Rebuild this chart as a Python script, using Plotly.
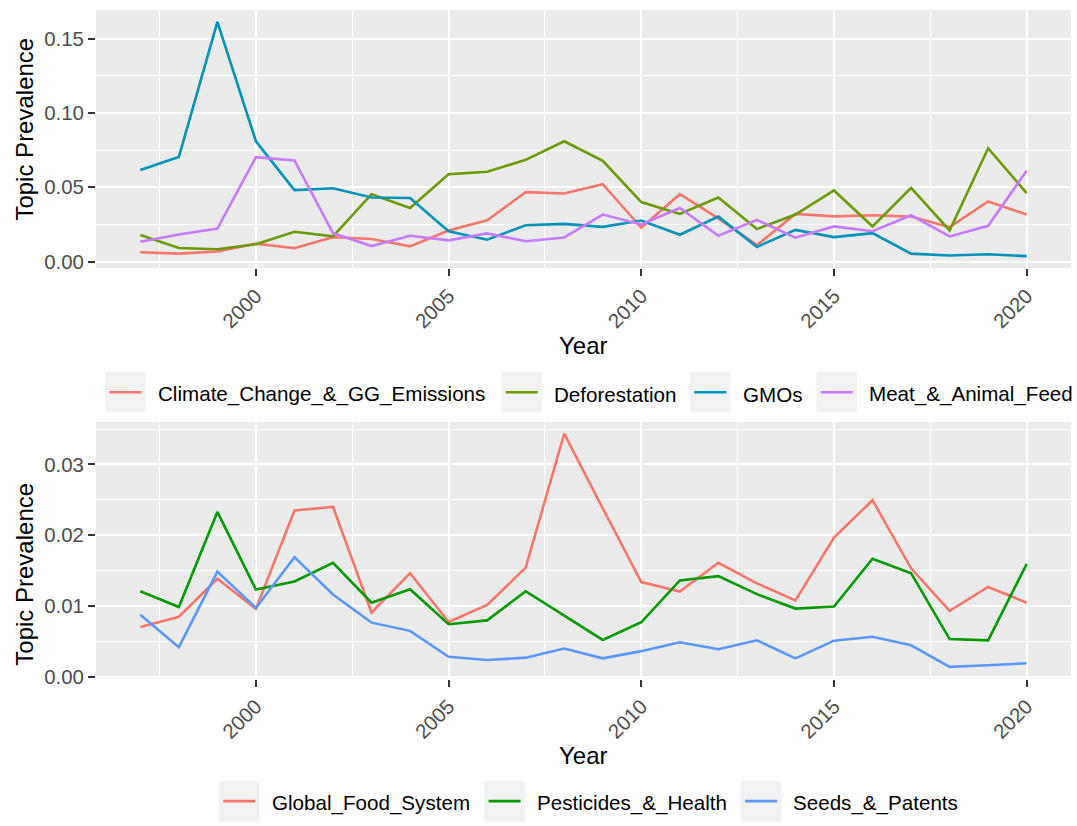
import plotly.graph_objects as go

years = list(range(1997, 2021))

# Top panel series
climate = [0.0062, 0.0053, 0.0067, 0.0120, 0.0089, 0.0164, 0.0151, 0.0102, 0.0209, 0.0278,
           0.0467, 0.0458, 0.0520, 0.0227, 0.0453, 0.0290, 0.0110, 0.0320, 0.0304, 0.0311,
           0.0302, 0.0231, 0.0404, 0.0316]
deforestation = [0.0178, 0.0091, 0.0082, 0.0116, 0.0200, 0.0169, 0.0453, 0.0360, 0.0587, 0.0604,
                 0.0684, 0.0809, 0.0678, 0.0400, 0.0320, 0.0431, 0.0218, 0.0316, 0.0478, 0.0236,
                 0.0496, 0.0209, 0.0762, 0.0460]
gmos = [0.0616, 0.0704, 0.1613, 0.0809, 0.0480, 0.0493, 0.0431, 0.0427, 0.0204, 0.0147,
        0.0244, 0.0253, 0.0233, 0.0276, 0.0180, 0.0302, 0.0098, 0.0213, 0.0164, 0.0191,
        0.0053, 0.0040, 0.0049, 0.0036]
meat = [0.0133, 0.0182, 0.0222, 0.0702, 0.0680, 0.0191, 0.0104, 0.0173, 0.0142, 0.0189,
        0.0136, 0.0162, 0.0316, 0.0249, 0.0360, 0.0173, 0.0280, 0.0160, 0.0236, 0.0204,
        0.0311, 0.0169, 0.0240, 0.0611]

# Bottom panel series
food_system = [0.00704, 0.00847, 0.01384, 0.00958, 0.02350, 0.02400, 0.00907, 0.01463, 0.00773, 0.01014,
               0.01542, 0.03435, 0.02380, 0.01338, 0.01204, 0.01611, 0.01320, 0.01079, 0.01968, 0.02495,
               0.01532, 0.00930, 0.01269, 0.01046]
pesticides = [0.01208, 0.00986, 0.02329, 0.01231, 0.01347, 0.01611, 0.01046, 0.01236, 0.00741, 0.00796,
              0.01208, 0.00870, 0.00520, 0.00769, 0.01361, 0.01421, 0.01167, 0.00963, 0.00991, 0.01667,
              0.01463, 0.00532, 0.00514, 0.01593]
seeds = [0.00875, 0.00417, 0.01486, 0.00972, 0.01690, 0.01162, 0.00764, 0.00648, 0.00282, 0.00236,
         0.00269, 0.00398, 0.00259, 0.00361, 0.00486, 0.00389, 0.00514, 0.00259, 0.00509, 0.00565,
         0.00444, 0.00139, 0.00162, 0.00190]

top_names = ["Climate_Change_&_GG_Emissions", "Deforestation", "GMOs", "Meat_&_Animal_Feed"]
top_values = [climate, deforestation, gmos, meat]
top_colors = ["#F8766D", "#6B9A00", "#0093B9", "#C77CFF"]

bot_names = ["Global_Food_System", "Pesticides_&_Health", "Seeds_&_Patents"]
bot_values = [food_system, pesticides, seeds]
bot_colors = ["#F8766D", "#009A00", "#5C97FF"]

FONT = "Liberation Sans, Arial, sans-serif"
W, H = 1077, 826
LEG_FONT = 20.6
TICK_FONT = 20.4
TITLE_FONT = 24
LW = 2.6

# legend layout (px): key-box left edges and vertical centres
top_key_left = [105, 501.5, 690, 816.5]
bot_key_left = [219, 484.3, 740.8]
top_leg_y, bot_leg_y = 396.5, 810
KEY_W, KEY_H = 40.5, 41
LINE_IN0, LINE_IN1 = 4.3, 36.3
TEXT_OFF = 50.6
TEXT_DY = 2

fig = go.Figure()
shapes = []
annotations = []

def px_x(v):
    return v / W

def px_y(v):
    return 1 - v / H

def add_series(names, values, colors, xa, ya, lefts, ycen):
    for n, v, c, left in zip(names, values, colors, lefts):
        fig.add_trace(go.Scatter(x=years, y=v, mode="lines", name=n,
                                 line=dict(color=c, width=LW),
                                 xaxis=xa, yaxis=ya, showlegend=False))
        # legend key box
        shapes.append(dict(type="rect", xref="paper", yref="paper", layer="below",
                           x0=px_x(left), x1=px_x(left + KEY_W),
                           y0=px_y(ycen + KEY_H / 2), y1=px_y(ycen - KEY_H / 2),
                           fillcolor="#F2F2F2", line=dict(width=0)))
        # legend key line
        shapes.append(dict(type="line", xref="paper", yref="paper", layer="above",
                           x0=px_x(left + LINE_IN0), x1=px_x(left + LINE_IN1),
                           y0=px_y(ycen), y1=px_y(ycen),
                           line=dict(color=c, width=LW)))
        # legend label
        annotations.append(dict(text=n, x=px_x(left + TEXT_OFF), y=px_y(ycen + TEXT_DY),
                                xref="paper", yref="paper", showarrow=False,
                                xanchor="left", yanchor="middle",
                                font=dict(family=FONT, size=LEG_FONT, color="black")))

add_series(top_names, top_values, top_colors, "x", "y", top_key_left, top_leg_y)
add_series(bot_names, bot_values, bot_colors, "x2", "y2", bot_key_left, bot_leg_y)

def xax(anchor):
    return dict(
        domain=[96 / W, 1071 / W], anchor=anchor, range=[1995.85, 2021.15],
        tick0=2000, dtick=5, tickangle=-45, showgrid=True, gridcolor="white", gridwidth=2,
        minor=dict(tick0=2000, dtick=2.5, showgrid=True, gridcolor="white", gridwidth=1),
        ticks="outside", ticklen=7, tickwidth=2, tickcolor="#333333",
        tickfont=dict(family=FONT, size=TICK_FONT, color="#4D4D4D"),
        zeroline=False, showline=False,
    )

def yax(domain, rng, dtick, anchor):
    return dict(
        domain=domain, anchor=anchor, range=rng, tick0=0, dtick=dtick, tickformat=".2f",
        showgrid=True, gridcolor="white", gridwidth=2,
        minor=dict(tick0=0, dtick=dtick / 2, showgrid=True, gridcolor="white", gridwidth=1),
        ticks="outside", ticklen=7, tickwidth=2, tickcolor="#333333",
        tickfont=dict(family=FONT, size=TICK_FONT, color="#4D4D4D"),
        zeroline=False, showline=False,
    )

def title(text, xpx, ypx, angle=0):
    return dict(text=text, x=px_x(xpx), y=px_y(ypx), xref="paper", yref="paper",
                showarrow=False, textangle=angle,
                font=dict(family=FONT, size=TITLE_FONT, color="black"),
                xanchor="center", yanchor="middle")

annotations += [
    title("Year", 583.5, 349),
    title("Year", 583.5, 764),
    title("Topic Prevalence", 25, 131, -90),
    title("Topic Prevalence", 25, 581, -90),
]

fig.update_layout(
    width=W, height=H, autosize=False,
    margin=dict(l=0, r=0, t=0, b=0),
    paper_bgcolor="white", plot_bgcolor="#EBEBEB",
    font=dict(family=FONT, color="black"),
    xaxis=xax("y"),
    yaxis=yax([1 - 271 / H, 1 - 10 / H], [-0.0044, 0.1693], 0.05, "x"),
    xaxis2=xax("y2"),
    yaxis2=yax([1 - 686 / H, 1 - 426.7 / H], [-0.00026, 0.0360], 0.01, "x2"),
    annotations=annotations,
    shapes=shapes,
    showlegend=False,
)

fig.write_html("out.html")
